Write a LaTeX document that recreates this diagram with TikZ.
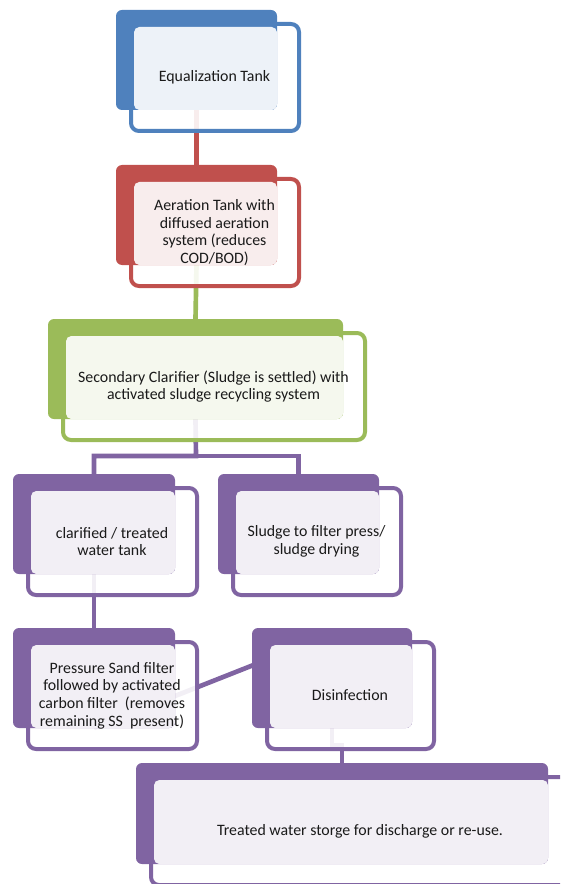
\documentclass[tikz,border=0pt]{standalone}
\usepackage{fontspec}
\setmainfont{Carlito}
\usetikzlibrary{calc}
\pgfdeclarelayer{bg}\pgfsetlayers{bg,main}
\definecolor{cblue}{HTML}{4F81BD}
\definecolor{cred}{HTML}{C0504D}
\definecolor{cgreen}{HTML}{9BBB59}
\definecolor{cpurple}{HTML}{8064A2}
\definecolor{ctext}{HTML}{1A1A1A}
\tikzset{
  backbox/.style={fill=#1, draw=none, rounded corners=4.5pt, inner sep=0pt, outer sep=0pt},
  frontbox/.style={draw=#1, line width=3pt, fill=white, fill opacity=0.9, rounded corners=6pt},
  tintbox/.style={fill=white, fill opacity=0.9, rounded corners=4pt},
  stagetext/.style={font=\fontsize{11.9pt}{13.2pt}\selectfont, align=center, inner sep=0pt, text=ctext},
  conn/.style={draw=#1, line width=3.5pt},
}
\newcommand\stage[7]{%
  \pgfmathsetmacro\stbw{(#5-#3)*0.75}%
  \pgfmathsetmacro\stbh{(#6-#4)*0.75}%
  \path[frontbox=#2] (#3+15,#4+14) rectangle (#5+22,#6+21);
  \node[backbox=#2, minimum width=\stbw pt, minimum height=\stbh pt] (#1) at ({(#3+#5)/2},{(#4+#6)/2}) {};
  \path[tintbox] (#3+18,#4+17) rectangle (#5,#6);
  \node[stagetext] (#1-t) at ({(#3+#5)/2+18},{(#4+#6)/2+17.5}) {#7};
}
\begin{document}
\begin{tikzpicture}[x=0.75pt,y=-0.75pt]
\useasboundingbox (0,0) rectangle (560,884);
\clip (0,0) rectangle (560,884);
\stage{eq}{cblue}{116}{10}{277}{110}{Equalization Tank}
\stage{aer}{cred}{116}{165}{277}{265}{Aeration Tank with\\diffused aeration\\system (reduces\\COD/BOD)}
\stage{clar}{cgreen}{48}{319}{343}{419}{Secondary Clarifier (Sludge is settled) with\\activated sludge recycling system}
\stage{ctank}{cpurple}{13}{474}{175}{574}{clarified / treated\\water tank}
\stage{sludge}{cpurple}{218}{474}{379}{574}{Sludge to filter press/\\sludge drying}
\stage{psf}{cpurple}{13}{628}{175}{728}{Pressure Sand filter\\followed by activated\\carbon filter~ (removes\\remaining SS~ present)}
\stage{dis}{cpurple}{252}{628}{412}{728}{Disinfection}
\stage{store}{cpurple}{136}{763}{548}{864}{Treated water storge for discharge or re-use.}
\begin{pgfonlayer}{bg}
  \draw[conn=cred] (eq.south) -- (aer.north);
  \draw[conn=cgreen] (aer.south) -- (clar.north);
  \coordinate (split) at (196,456);
  \draw[conn=cpurple] (clar.south) -- (split) -| (ctank.north);
  \draw[conn=cpurple] (split) -| (sludge.north);
  \draw[conn=cpurple] (ctank.south) -- (psf.north);
  \draw[conn=cpurple] (psf.south) -- ($(dis.north)+(0,6)$);
  \coordinate (bend) at (332,745);
  \draw[conn=cpurple] (dis.south) -- (bend) -| (store.north);
\end{pgfonlayer}
\end{tikzpicture}
\end{document}
